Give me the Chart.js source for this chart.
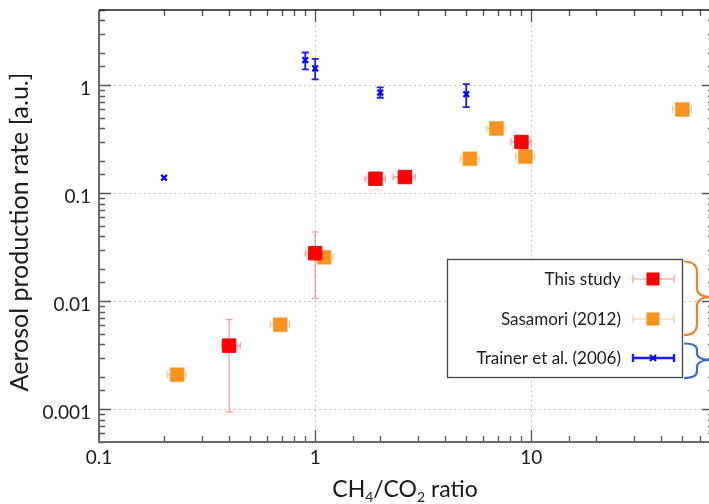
<!DOCTYPE html>
<html>
<head>
<meta charset="utf-8">
<script src="https://cdn.jsdelivr.net/npm/chart.js@4/dist/chart.umd.min.js"></script>
<style>
  html, body { margin: 0; padding: 0; background: #fff; overflow: hidden; }
  #wrap { width: 716px; height: 504px; }
</style>
</head>
<body>
<div id="wrap"><canvas id="c" width="716" height="504"></canvas></div>
<script>
// ========= data =========
// This study (red squares)
const studyX   = [0.4, 1.0, 1.9, 2.6, 9.0];
const studyY   = [0.0039, 0.028, 0.137, 0.142, 0.30];
const studyXLo = [0.37, 0.90, 1.70, 2.30, 8.05];
const studyXHi = [0.45, 1.11, 2.11, 2.90, 9.97];
const studyYLo = [0.00095, 0.0107, null, null, null];
const studyYHi = [0.0068, 0.044, null, null, null];

// Sasamori (2012) (orange squares)
const sasaX   = [0.23, 0.69, 1.1, 5.2, 6.9, 9.4, 50];
const sasaY   = [0.0021, 0.0061, 0.0256, 0.21, 0.40, 0.22, 0.60];
const sasaXLo = [0.207, 0.62, 0.99, 4.68, 6.21, 8.46, 45];
const sasaXHi = [0.253, 0.76, 1.21, 5.72, 7.59, 10.34, 55];

// Trainer et al. (2006) (blue crosses)
const trainX   = [0.2, 0.9, 1.0, 2.0, 5.0];
const trainY   = [0.14, 1.72, 1.44, 0.86, 0.83];
const trainYLo = [null, 1.41, 1.14, 0.77, 0.63];
const trainYHi = [null, 2.02, 1.76, 0.96, 1.03];

const seriesLabels = ["This study", "Sasamori (2012)", "Trainer et al. (2006)"];

// ========= helpers =========
const toPoints = (xs, ys) => xs.map((x, i) => ({ x, y: ys[i] }));
const isDecade = v => Math.abs(Math.log10(v) - Math.round(Math.log10(v))) < 1e-9;

const FONT = "Lato, 'Open Sans', sans-serif";
Chart.defaults.font.family = FONT;
Chart.defaults.color = "#1a1a1a";

// error bars, drawn under the markers
const errorBars = {
  id: "errorBars",
  beforeDatasetsDraw(chart) {
    const { ctx, scales: { x, y } } = chart;
    ctx.save();
    chart.data.datasets.forEach(ds => {
      ctx.strokeStyle = ds.errColor;
      ctx.lineWidth = ds.errWidth;
      const cap = ds.capSize;
      ds.data.forEach((p, i) => {
        const px = x.getPixelForValue(p.x), py = y.getPixelForValue(p.y);
        ctx.beginPath();
        if (ds.xLo && ds.xLo[i] != null) {
          const a = x.getPixelForValue(ds.xLo[i]), b = x.getPixelForValue(ds.xHi[i]);
          ctx.moveTo(a, py); ctx.lineTo(b, py);
          ctx.moveTo(a, py - cap); ctx.lineTo(a, py + cap);
          ctx.moveTo(b, py - cap); ctx.lineTo(b, py + cap);
        }
        if (ds.yLo && ds.yLo[i] != null) {
          const a = y.getPixelForValue(ds.yLo[i]), b = y.getPixelForValue(ds.yHi[i]);
          ctx.moveTo(px, a); ctx.lineTo(px, b);
          ctx.moveTo(px - cap, a); ctx.lineTo(px + cap, a);
          ctx.moveTo(px - cap, b); ctx.lineTo(px + cap, b);
        }
        ctx.stroke();
      });
    });
    ctx.restore();
  }
};

// frame + inward tick marks on all four sides
const frame = {
  id: "frame",
  afterDatasetsDraw(chart) {
    const { ctx, chartArea: a, scales: { x, y } } = chart;
    ctx.save();
    ctx.strokeStyle = "#555";
    ctx.lineWidth = 1.3;
    ctx.beginPath();
    x.ticks.forEach(t => {
      const px = Math.round(x.getPixelForValue(t.value)) + 0.5;
      const len = isDecade(t.value) ? 12 : 6;
      ctx.moveTo(px, a.bottom); ctx.lineTo(px, a.bottom - len);
      ctx.moveTo(px, a.top); ctx.lineTo(px, a.top + len);
    });
    y.ticks.forEach(t => {
      const py = Math.round(y.getPixelForValue(t.value)) + 0.5;
      const len = isDecade(t.value) ? 12 : 6;
      ctx.moveTo(a.left, py); ctx.lineTo(a.left + len, py);
      ctx.moveTo(a.right, py); ctx.lineTo(a.right - len, py);
    });
    ctx.stroke();

    ctx.lineWidth = 2;
    ctx.strokeStyle = "#6a6a6a";
    ctx.beginPath();
    ctx.moveTo(a.left, a.top); ctx.lineTo(a.left, a.bottom); ctx.lineTo(a.right, a.bottom);
    ctx.stroke();
    ctx.strokeStyle = "#222";
    ctx.lineWidth = 1.6;
    ctx.beginPath();
    ctx.moveTo(a.left, a.top); ctx.lineTo(a.right, a.top); ctx.lineTo(a.right, a.bottom);
    ctx.stroke();
    ctx.restore();
  }
};

// legend box, braces and axis titles
const legendBox = {
  id: "legendBox",
  afterDraw(chart) {
    const { ctx } = chart;
    const L = 447, T = 259, R = 682, B = 377;
    ctx.save();
    ctx.fillStyle = "#fff";
    ctx.fillRect(L, T, R - L, B - T);
    ctx.strokeStyle = "#444";
    ctx.lineWidth = 1.3;
    ctx.strokeRect(L + 0.5, T + 0.5, R - L, B - T);

    const rowY = [279, 319, 358];
    ctx.font = "17px " + FONT;
    ctx.textAlign = "right";
    ctx.textBaseline = "middle";
    chart.data.datasets.forEach((ds, i) => {
      const yy = rowY[i];
      ctx.fillStyle = "#1a1a1a";
      ctx.fillText(ds.label, 621, yy + 1);
      const x0 = 633, x1 = 674, xm = 653;
      ctx.strokeStyle = ds.errColor;
      ctx.lineWidth = ds.legendLine;
      ctx.beginPath();
      ctx.moveTo(x0, yy); ctx.lineTo(x1, yy);
      ctx.moveTo(x0, yy - 4); ctx.lineTo(x0, yy + 4);
      ctx.moveTo(x1, yy - 4); ctx.lineTo(x1, yy + 4);
      ctx.stroke();
      if (ds.pointStyle === "rect") {
        ctx.fillStyle = ds.backgroundColor;
        ctx.fillRect(xm - 6.5, yy - 6.5, 13, 13);
      } else {
        ctx.strokeStyle = ds.borderColor;
        ctx.lineWidth = 2;
        ctx.beginPath();
        ctx.moveTo(xm - 3, yy - 3); ctx.lineTo(xm + 3, yy + 3);
        ctx.moveTo(xm - 3, yy + 3); ctx.lineTo(xm + 3, yy - 3);
        ctx.stroke();
      }
    });

    // braces to the right of the legend
    ctx.lineWidth = 2.2;
    ctx.strokeStyle = "#ee7f2d";
    ctx.beginPath();
    ctx.moveTo(684, 261.5);
    ctx.quadraticCurveTo(697, 261.5, 697, 272);
    ctx.lineTo(697, 288);
    ctx.quadraticCurveTo(697, 297, 712, 297);
    ctx.quadraticCurveTo(697, 297, 697, 306);
    ctx.lineTo(697, 324);
    ctx.quadraticCurveTo(697, 335, 684, 335);
    ctx.stroke();
    ctx.strokeStyle = "#3a6fc7";
    ctx.beginPath();
    ctx.moveTo(684, 343.5);
    ctx.quadraticCurveTo(697, 343.5, 697, 350);
    ctx.lineTo(697, 353);
    ctx.quadraticCurveTo(697, 360, 712, 360);
    ctx.quadraticCurveTo(697, 360, 697, 367);
    ctx.lineTo(697, 371);
    ctx.quadraticCurveTo(697, 378, 684, 378);
    ctx.stroke();

    // axis titles
    ctx.fillStyle = "#1a1a1a";
    ctx.textBaseline = "alphabetic";
    ctx.save();
    ctx.translate(28, 232);
    ctx.rotate(-Math.PI / 2);
    ctx.textAlign = "center";
    ctx.font = "25px " + FONT;
    ctx.fillText("Aerosol production rate [a.u.]", 0, 0);
    ctx.restore();

    const parts = [["CH", false], ["4", true], ["/CO", false], ["2", true], [" ratio", false]];
    const big = "23px " + FONT, small = "14px " + FONT;
    let w = 0;
    parts.forEach(([s, sub]) => { ctx.font = sub ? small : big; w += ctx.measureText(s).width; });
    let cx = 405 - w / 2;
    ctx.textAlign = "left";
    parts.forEach(([s, sub]) => {
      ctx.font = sub ? small : big;
      ctx.fillText(s, cx, sub ? 502 : 497);
      cx += ctx.measureText(s).width;
    });
    ctx.restore();
  }
};

// ========= chart =========
const gridColor = c => isDecade(c.tick.value) ? "#c9c9c9" : "rgba(0,0,0,0)";

new Chart(document.getElementById("c"), {
  type: "scatter",
  data: {
    datasets: [
      {
        label: seriesLabels[0],
        data: toPoints(studyX, studyY),
        xLo: studyXLo, xHi: studyXHi, yLo: studyYLo, yHi: studyYHi,
        pointStyle: "rect", pointRadius: 9.5,
        backgroundColor: "#ff0000", borderColor: "#ff0000", borderWidth: 1,
        errColor: "rgba(255,60,60,0.55)", errWidth: 1.2, capSize: 3.5, legendLine: 1.2
      },
      {
        label: seriesLabels[1],
        data: toPoints(sasaX, sasaY),
        xLo: sasaXLo, xHi: sasaXHi,
        pointStyle: "rect", pointRadius: 9.5,
        backgroundColor: "#f7931e", borderColor: "rgba(247,147,30,0.6)", borderWidth: 1.5,
        errColor: "rgba(247,147,30,0.5)", errWidth: 1.2, capSize: 3.5, legendLine: 1.2
      },
      {
        label: seriesLabels[2],
        data: toPoints(trainX, trainY),
        yLo: trainYLo, yHi: trainYHi,
        pointStyle: "crossRot", pointRadius: 4,
        backgroundColor: "#0000ff", borderColor: "#0000ff", borderWidth: 2.2,
        errColor: "#1a1aff", errWidth: 1.8, capSize: 3.5, legendLine: 2.4
      }
    ]
  },
  options: {
    responsive: false,
    animation: false,
    layout: { autoPadding: false, padding: { top: 10, right: 2, left: 0, bottom: 0 } },
    plugins: { legend: { display: false }, tooltip: { enabled: false } },
    scales: {
      x: {
        type: "logarithmic", min: 0.1, max: 70,
        afterFit: s => { s.height = 62; s.paddingLeft = 0; s.paddingRight = 0; },
        border: { display: false, dash: [2, 3] },
        grid: { color: gridColor, drawTicks: false, lineWidth: 1 },
        ticks: {
          autoSkip: false, maxRotation: 0, padding: 4,
          font: { size: 19 }, color: "#1a1a1a",
          callback: v => isDecade(v) ? String(v) : ""
        }
      },
      y: {
        type: "logarithmic", min: 0.0005, max: 5,
        afterFit: s => { s.width = 99; s.paddingTop = 0; s.paddingBottom = 0; },
        border: { display: false, dash: [2, 3] },
        grid: { color: gridColor, drawTicks: false, lineWidth: 1 },
        ticks: {
          autoSkip: false, padding: 8, labelOffset: 3,
          font: { size: 19 }, color: "#1a1a1a",
          callback: v => isDecade(v) ? String(v) : ""
        }
      }
    }
  },
  plugins: [errorBars, frame, legendBox]
});
</script>
</body>
</html>
